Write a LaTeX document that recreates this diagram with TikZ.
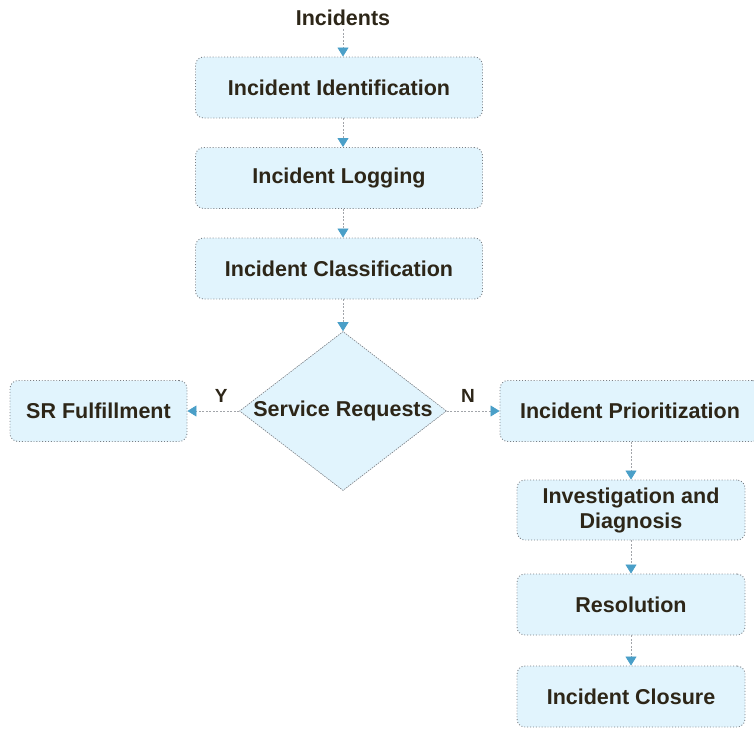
\documentclass[tikz,border=0pt]{standalone}
\usepackage{fontspec}
\setmainfont{Liberation Sans}
\usetikzlibrary{arrows.meta,shapes.geometric}
\definecolor{boxfill}{HTML}{E1F4FD}
\definecolor{boxline}{HTML}{7A7F85}
\definecolor{tipblue}{HTML}{4A9FC8}
\definecolor{txt}{HTML}{2D2618}
\begin{document}
\begin{tikzpicture}[x=1pt,y=-1pt,
  every node/.style={font=\bfseries\fontsize{21.5}{25}\selectfont, text=txt},
  stepbox/.style={draw=boxline, fill=boxfill, dotted, line width=0.9pt, rounded corners=8pt,
    minimum width=287pt, minimum height=61pt, inner sep=0pt, align=center},
  decision/.style={diamond, draw=boxline, fill=boxfill, dash pattern=on 1.5pt off 1pt, line width=0.6pt,
    minimum width=207pt, minimum height=159pt, inner sep=0pt, aspect=1.3},
  flow/.style={draw=boxline!70, dash pattern=on 2pt off 1.5pt, line width=0.8pt,
    -{Triangle[width=11pt,length=9pt,color=tipblue,fill=tipblue]}},
  lbl/.style={font=\bfseries\fontsize{19}{20}\selectfont}
]
\useasboundingbox (0,0) rectangle (754,728);
\node (inc) at (343,18) {Incidents};
\node[stepbox] (b1) at (339,87.5) {Incident Identification};
\node[stepbox] (b2) at (339,178) {Incident Logging};
\node[stepbox] (b3) at (339,268.5) {Incident Classification};
\node[decision] (sr) at (343,411) {Service Requests};
\node[stepbox, minimum width=177pt] (srf) at (98.5,411) {SR Fulfillment};
\node[stepbox, minimum width=260pt] (pri) at (630,411) {Incident Prioritization};
\node[stepbox, minimum width=228pt, minimum height=60pt] (inv) at (631,510) {Investigation and\\Diagnosis};
\node[stepbox, minimum width=228pt] (res) at (631,604.5) {Resolution};
\node[stepbox, minimum width=228pt] (clo) at (631,696.5) {Incident Closure};
\coordinate (ax) at (343,0);
\coordinate (rx) at (631,0);
\draw[flow] (inc.south) -- (b1.north -| ax);
\draw[flow] (b1.south -| ax) -- (b2.north -| ax);
\draw[flow] (b2.south -| ax) -- (b3.north -| ax);
\draw[flow] (b3.south -| ax) -- (sr.north);
\draw[flow] (sr.west) -- (srf.east) node[lbl, pos=0.35, above=5pt] (y) {Y};
\draw[flow] (sr.east) -- (pri.west) node[lbl, pos=0.4, above=5pt] (n) {N};
\draw[flow] (pri.south -| rx) -- (inv.north -| rx);
\draw[flow] (inv.south -| rx) -- (res.north -| rx);
\draw[flow] (res.south -| rx) -- (clo.north -| rx);
\end{tikzpicture}
\end{document}
